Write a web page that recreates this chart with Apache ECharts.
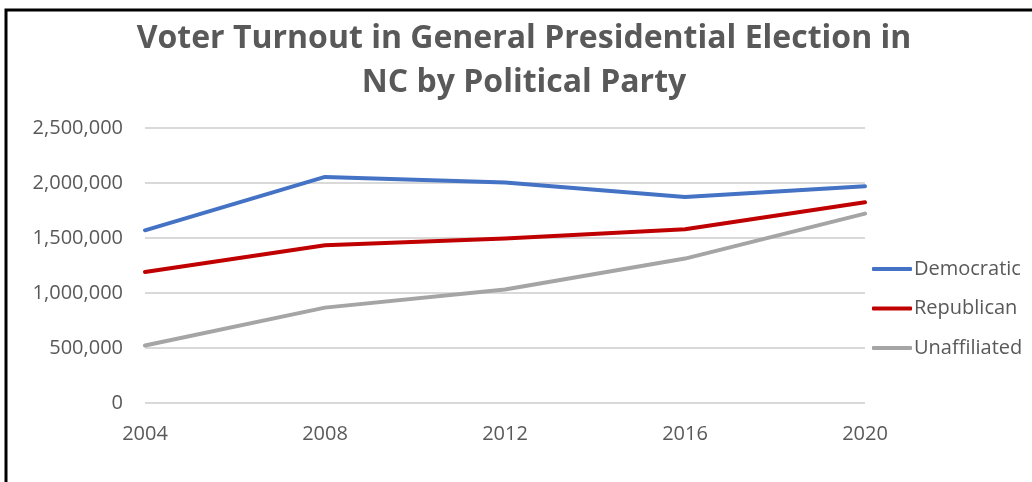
<!DOCTYPE html>
<html>
<head>
<meta charset="utf-8">
<script src="https://cdn.jsdelivr.net/npm/echarts@6/dist/echarts.min.js"></script>
<style>
  html, body { margin: 0; padding: 0; background: #fff; }
  #chart { width: 1032px; height: 482px; }
</style>
</head>
<body>
<div id="chart"></div>
<script>
// Election years on the category axis
const years = ['2004', '2008', '2012', '2016', '2020'];

// Ballots cast in NC general presidential elections, by registered party
const democratic   = [1570000, 2055000, 2004000, 1873000, 1970000];
const republican   = [1191000, 1434000, 1495000, 1580000, 1825000];
const unaffiliated = [522000, 867000, 1031000, 1313000, 1722000];

// Value axis ticks
const yMin = 0;
const yMax = 2500000;
const yStep = 500000;

const FONT = '"Open Sans", "Liberation Sans", sans-serif';
const TEXT = '#595959';

const chart = echarts.init(document.getElementById('chart'), null, { renderer: 'canvas' });

function line(name, data, color) {
  return {
    name: name,
    type: 'line',
    data: data,
    symbol: 'none',
    lineStyle: { color: color, width: 4, cap: 'round', join: 'round' },
    itemStyle: { color: color },
    emphasis: { disabled: true },
    animation: false
  };
}

chart.setOption({
  backgroundColor: '#ffffff',
  animation: false,
  title: {
    text: 'Voter Turnout in General Presidential Election in\nNC by Political Party',
    left: 524,
    top: 17,
    textAlign: 'center',
    padding: 0,
    textStyle: {
      fontFamily: FONT,
      fontWeight: 'bold',
      fontSize: 32,
      color: TEXT,
      lineHeight: 44
    }
  },
  legend: {
    orient: 'vertical',
    left: 872,
    top: 259,
    padding: 0,
    itemWidth: 40,
    itemHeight: 4,
    itemGap: 19.5,
    icon: 'roundRect',
    textStyle: { fontFamily: FONT, fontSize: 20, lineHeight: 20, color: TEXT, padding: [0, 0, 0, -3] },
    data: ['Democratic', 'Republican', 'Unaffiliated']
  },
  grid: {
    left: 145,
    right: 167,
    top: 128,
    bottom: 79,
    containLabel: false
  },
  xAxis: {
    type: 'category',
    data: years,
    boundaryGap: false,
    axisLine: { show: false },
    axisTick: { show: false },
    axisLabel: { fontFamily: FONT, fontSize: 20, color: TEXT, margin: 21 },
    splitLine: { show: false }
  },
  yAxis: {
    type: 'value',
    min: yMin,
    max: yMax,
    interval: yStep,
    axisLine: { show: false },
    axisTick: { show: false },
    axisLabel: {
      fontFamily: FONT,
      fontSize: 20,
      color: TEXT,
      margin: 22,
      formatter: v => v.toLocaleString('en-US')
    },
    splitLine: { lineStyle: { color: '#d9d9d9', width: 2 } }
  },
  graphic: [{
    type: 'rect',
    silent: true,
    shape: { x: 6, y: 10, width: 1200, height: 700 },
    style: { fill: 'none', stroke: '#000000', lineWidth: 3 }
  }],
  series: [
    line('Democratic', democratic, '#4472C4'),
    line('Republican', republican, '#C00000'),
    line('Unaffiliated', unaffiliated, '#A5A5A5')
  ]
});
</script>
</body>
</html>
